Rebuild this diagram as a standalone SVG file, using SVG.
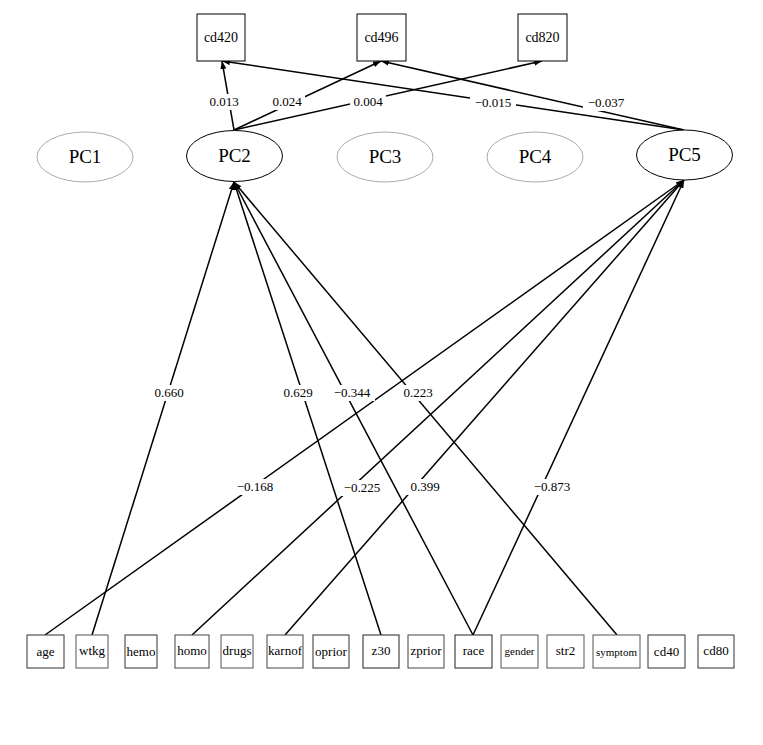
<svg xmlns="http://www.w3.org/2000/svg" width="763" height="745" viewBox="0 0 763 745" font-family="'Liberation Serif', 'DejaVu Serif', serif">
<style>
text{font-family:'Liberation Serif','DejaVu Serif',serif;fill:#000}
.pc{font-size:19px;text-anchor:middle}
.bx{font-size:13px;text-anchor:middle}
.tb{font-size:14px;text-anchor:middle}
.lb{font-size:13px;text-anchor:middle}
.e{stroke:#000;stroke-width:1.5;fill:none;marker-end:url(#ah)}
.lbg{fill:#fff}
</style>
<defs>
<marker id="ah" viewBox="0 0 8 6" refX="8" refY="3" markerWidth="8" markerHeight="6" markerUnits="userSpaceOnUse" orient="auto">
<path d="M0,0 L8,3 L0,6 Z" fill="#000"/>
</marker>
</defs>
<rect width="763" height="745" fill="#fff"/>
<g id="connectors">
<line class="e" x1="234" y1="130" x2="222" y2="61"/>
<line class="e" x1="234" y1="130" x2="381" y2="61"/>
<line class="e" x1="234" y1="130" x2="542" y2="61"/>
<line class="e" x1="684" y1="130" x2="222" y2="61"/>
<line class="e" x1="684" y1="130" x2="381" y2="61"/>
<line class="e" x1="92" y1="635" x2="234" y2="182"/>
<line class="e" x1="381" y1="635" x2="234" y2="182"/>
<line class="e" x1="473" y1="635" x2="234" y2="182"/>
<line class="e" x1="617" y1="635" x2="234" y2="182"/>
<line class="e" x1="45" y1="635" x2="684" y2="180"/>
<line class="e" x1="192" y1="635" x2="684" y2="180"/>
<line class="e" x1="285" y1="635" x2="684" y2="180"/>
<line class="e" x1="473" y1="635" x2="684" y2="180"/>
<rect class="lbg" x="206" y="94" width="36" height="16"/>
<text class="lb" x="224" y="106">0.013</text>
<rect class="lbg" x="269" y="94" width="36" height="16"/>
<text class="lb" x="287" y="106">0.024</text>
<rect class="lbg" x="350" y="94" width="36" height="16"/>
<text class="lb" x="368" y="106">0.004</text>
<rect class="lbg" x="470" y="95" width="46" height="16"/>
<text class="lb" x="493" y="107">−0.015</text>
<rect class="lbg" x="583" y="95" width="46" height="16"/>
<text class="lb" x="606" y="107">−0.037</text>
<rect class="lbg" x="151" y="385" width="36" height="16"/>
<text class="lb" x="169" y="397">0.660</text>
<rect class="lbg" x="280" y="385" width="36" height="16"/>
<text class="lb" x="298" y="397">0.629</text>
<rect class="lbg" x="329" y="385" width="46" height="16"/>
<text class="lb" x="352" y="397">−0.344</text>
<rect class="lbg" x="400" y="385" width="36" height="16"/>
<text class="lb" x="418" y="397">0.223</text>
<rect class="lbg" x="232" y="479" width="46" height="16"/>
<text class="lb" x="255" y="491">−0.168</text>
<rect class="lbg" x="339" y="480" width="46" height="16"/>
<text class="lb" x="362" y="492">−0.225</text>
<rect class="lbg" x="407" y="479" width="36" height="16"/>
<text class="lb" x="425" y="491">0.399</text>
<rect class="lbg" x="529" y="479" width="46" height="16"/>
<text class="lb" x="552" y="491">−0.873</text>
</g>
<g id="cd420"><rect x="197" y="14" width="48" height="47" fill="#fff" stroke="#000"/><text class="tb" x="221" y="42">cd420</text></g>
<g id="cd496"><rect x="357" y="14" width="49" height="47" fill="#fff" stroke="#000"/><text class="tb" x="381.5" y="42">cd496</text></g>
<g id="cd820"><rect x="518" y="14" width="49" height="47" fill="#fff" stroke="#000"/><text class="tb" x="542.5" y="42">cd820</text></g>
<g id="PC1"><ellipse cx="85" cy="157" rx="48" ry="25" fill="#fff" stroke="#aaa"/><text class="pc" x="85" y="163">PC1</text></g>
<g id="PC2"><ellipse cx="234.5" cy="156" rx="48" ry="25.5" fill="#fff" stroke="#000"/><text class="pc" x="234.5" y="162">PC2</text></g>
<g id="PC3"><ellipse cx="385" cy="157" rx="48" ry="25" fill="#fff" stroke="#aaa"/><text class="pc" x="385" y="163">PC3</text></g>
<g id="PC4"><ellipse cx="535" cy="157" rx="48" ry="25" fill="#fff" stroke="#aaa"/><text class="pc" x="535" y="163">PC4</text></g>
<g id="PC5"><ellipse cx="684.5" cy="155" rx="48" ry="25" fill="#fff" stroke="#000"/><text class="pc" x="684.5" y="161">PC5</text></g>
<g id="age"><rect x="27" y="635" width="37" height="33" fill="#fff" stroke="#333"/><text class="bx" x="45.5" y="656">age</text></g>
<g id="wtkg"><rect x="76" y="635" width="32" height="33" fill="#fff" stroke="#555"/><text class="bx" x="92" y="655">wtkg</text></g>
<g id="hemo"><rect x="125" y="635" width="32" height="33" fill="#fff" stroke="#333"/><text class="bx" x="141" y="656">hemo</text></g>
<g id="homo"><rect x="175" y="635" width="34" height="33" fill="#fff" stroke="#444"/><text class="bx" x="192" y="655">homo</text></g>
<g id="drugs"><rect x="221" y="635" width="32" height="33" fill="#fff" stroke="#555"/><text class="bx" x="237" y="655">drugs</text></g>
<g id="karnof"><rect x="267" y="635" width="36" height="33" fill="#fff" stroke="#444"/><text class="bx" x="285" y="655" textLength="34" lengthAdjust="spacingAndGlyphs">karnof</text></g>
<g id="oprior"><rect x="313" y="635" width="36" height="33" fill="#fff" stroke="#333"/><text class="bx" x="331" y="656">oprior</text></g>
<g id="z30"><rect x="363" y="635" width="36" height="33" fill="#fff" stroke="#222"/><text class="bx" x="381" y="655">z30</text></g>
<g id="zprior"><rect x="408" y="635" width="36" height="33" fill="#fff" stroke="#444"/><text class="bx" x="426" y="655">zprior</text></g>
<g id="race"><rect x="455" y="635" width="37" height="33" fill="#fff" stroke="#222"/><text class="bx" x="473.5" y="655">race</text></g>
<g id="gender"><rect x="501" y="635" width="37" height="33" fill="#fff" stroke="#555"/><text class="bx" x="519.5" y="655" style="font-size:11px">gender</text></g>
<g id="str2"><rect x="547" y="635" width="37" height="33" fill="#fff" stroke="#555"/><text class="bx" x="565.5" y="655">str2</text></g>
<g id="symptom"><rect x="593" y="635" width="47" height="33" fill="#fff" stroke="#555"/><text class="bx" x="616.5" y="656" style="font-size:11px">symptom</text></g>
<g id="cd40"><rect x="648" y="635" width="37" height="33" fill="#fff" stroke="#333"/><text class="bx" x="666.5" y="656">cd40</text></g>
<g id="cd80"><rect x="698" y="635" width="36" height="33" fill="#fff" stroke="#333"/><text class="bx" x="716" y="655">cd80</text></g>
</svg>
